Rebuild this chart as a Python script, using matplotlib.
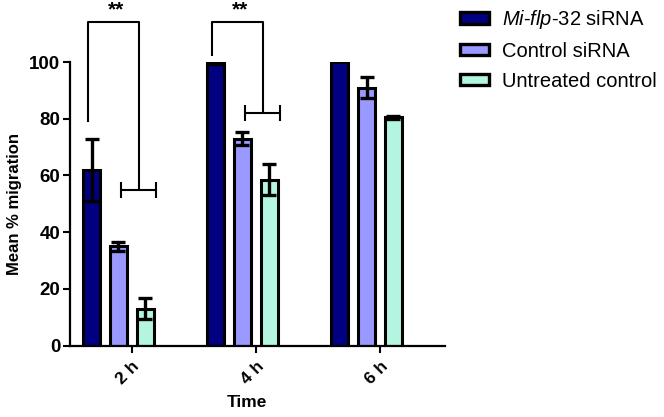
import matplotlib
matplotlib.use("Agg")
import matplotlib.pyplot as plt
from matplotlib.patches import Patch
import numpy as np

plt.rcParams['font.family'] = ['Liberation Sans', 'DejaVu Sans']
plt.rcParams['mathtext.fontset'] = 'custom'
plt.rcParams['mathtext.it'] = 'Liberation Sans:italic'
plt.rcParams['mathtext.rm'] = 'Liberation Sans'

# ---- data ----
times = ["2 h", "4 h", "6 h"]
series_names = [r"$\it{Mi}$-$\it{flp}$-32 siRNA", "Control siRNA", "Untreated control"]
mi_flp = [62, 99.5, 100]
mi_flp_err = [11, 0.3, 0]
control = [35, 73, 91]
control_err = [1.5, 2.3, 3.6]
untreated = [13, 58.5, 80.5]
untreated_err = [3.7, 5.5, 0.5]
colors = ["#000080", "#9999FF", "#B3F5E1"]

# significance brackets: (group, left start, top, right cap level, label)
brk_group = [0, 1]
brk_left = [79, 102]
brk_top = [114, 114]
brk_right = [55, 82]
brk_label = ["**", "**"]

fig = plt.figure(figsize=(6.64, 4.17), dpi=100)
ax = fig.add_axes([70/664, 1-345.7/417, 375/664, 283.7/417])

x = np.arange(len(times))
off = 0.214
w = 0.137
vals = [mi_flp, control, untreated]
errs = [mi_flp_err, control_err, untreated_err]
for i, (v, e, c, name) in enumerate(zip(vals, errs, colors, series_names)):
    xp = x + (i - 1) * off
    ax.bar(xp, v, width=w, color=c, edgecolor='black', linewidth=2.2, label=name, zorder=2)
    ee = np.array(e, dtype=float)
    mask = ee > 0
    ax.errorbar(xp[mask], np.array(v)[mask], yerr=ee[mask], fmt='none', ecolor='black',
                elinewidth=2.4, capsize=5.3, capthick=2.4, zorder=3)

# brackets
for g, yl, yt, yr, lab in zip(brk_group, brk_left, brk_top, brk_right, brk_label):
    xl = g - off - 0.03
    cl = g + 0.02
    cr = g + off + 0.09
    xr = (cl + cr) / 2
    kw = dict(color='black', lw=1.5, clip_on=False, zorder=4, solid_capstyle='butt')
    ax.plot([xl, xl, xr, xr], [yl, yt, yt, yr], **kw)
    ax.plot([cl, cr], [yr, yr], **kw)
    ax.plot([cl, cl], [yr - 2.8, yr + 2.8], **kw)
    ax.plot([cr, cr], [yr - 2.8, yr + 2.8], **kw)
    ax.text((xl + xr) / 2 + 0.02, yt + 1.0, lab, ha='center', va='bottom',
            fontsize=15, fontweight='bold', clip_on=False)

ax.set_xlim(-0.391, 2.633)
ax.set_ylim(0, 100)
ax.set_yticks([0, 20, 40, 60, 80, 100])
ax.set_xticks(x + 0.108)
ax.set_xticklabels(times, rotation=45, ha='right', va='top', rotation_mode='anchor',
                   fontsize=12.5, fontweight='bold')
for lbl in ax.get_yticklabels():
    lbl.set_fontweight('bold')
    lbl.set_fontsize(13.5)
ax.tick_params(axis='both', width=1.5, length=5, direction='out', pad=2)
ax.tick_params(axis='x', pad=4)
for s in ['top', 'right']:
    ax.spines[s].set_visible(False)
for s in ['left', 'bottom']:
    ax.spines[s].set_linewidth(1.6)

ax.set_ylabel("Mean % migration", fontsize=12, fontweight='bold')
ax.yaxis.set_label_coords(-0.128, 0.5)
ax.set_xlabel("Time", fontsize=12.5, fontweight='bold')
ax.xaxis.set_label_coords(0.472, -0.175)

handles = [Patch(facecolor=c, edgecolor='black', linewidth=2.4) for c in colors]
leg = fig.legend(handles, series_names, loc='upper left', bbox_to_anchor=(460/664, 1 - 8/417),
                 frameon=False, fontsize=14.5, handlelength=1.45, handleheight=0.5,
                 handletextpad=0.65, labelspacing=0.54, borderpad=0, borderaxespad=0)

fig.savefig("out.png", dpi=100)
